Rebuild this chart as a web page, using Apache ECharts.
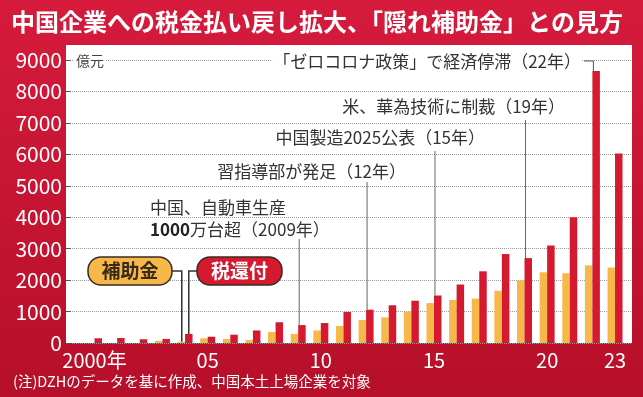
<!DOCTYPE html>
<html><head><meta charset="utf-8">
<script src="https://cdn.jsdelivr.net/npm/echarts@6/dist/echarts.min.js"></script>
<style>html,body{margin:0;padding:0;background:#c41230;}#c{width:643px;height:397px;}</style>
</head><body><div id="c"></div>
<script>
const years = [2000,2001,2002,2003,2004,2005,2006,2007,2008,2009,2010,2011,2012,2013,2014,2015,2016,2017,2018,2019,2020,2021,2022,2023];
// 補助金 (subsidies), 億元
const subsidy = [0,0,0,70,40,150,130,100,350,290,400,540,730,815,1000,1270,1370,1410,1660,1990,2250,2220,2470,2400];
// 税還付 (tax refunds), 億元
const taxRefund = [150,160,120,130,290,200,265,400,660,570,635,985,1060,1200,1345,1510,1860,2280,2830,2700,3100,4000,8650,6030];
const xTickValues = [2000,2005,2010,2015,2020,2023];
const xTickLabels = ['2000年','05','10','15','20','23'];
const titleText = '中国企業への税金払い戻し拡大、「隠れ補助金」との見方';
const noteText = '(注)DZHのデータを基に作成、中国本土上場企業を対象';
const unitText = '億元';
const events = [
  {year:2022, text:'「ゼロコロナ政策」で経済停滞（22年）'},
  {year:2019, text:'米、華為技術に制裁（19年）'},
  {year:2015, text:'中国製造2025公表（15年）'},
  {year:2012, text:'習指導部が発足（12年）'},
  {year:2009, text:'中国、自動車生産\n{b|1000}万台超（2009年）'}
];

const F = '"Noto Sans CJK JP", "Noto Sans", sans-serif';
const BW = 7.5;
const YELLOW = '#f7b84a', RED = '#d51a30';
const chart = echarts.init(document.getElementById('c'), null, {renderer:'canvas'});
chart.setOption({
  animation:false,
  backgroundColor:{type:'linear',x:0,y:0,x2:0,y2:1,colorStops:[{offset:0,color:'#d61b3d'},{offset:1,color:'#b60f29'}]},
  grid:{left:66,right:11,top:60,bottom:54},
  xAxis:{type:'value',min:1998.74,max:2023.75,
    axisLine:{show:false},axisTick:{show:false},splitLine:{show:false},
    axisLabel:{customValues:xTickValues,formatter:v=>xTickLabels[xTickValues.indexOf(v)],color:'#fff',fontSize:20,fontFamily:F,margin:7}},
  yAxis:{type:'value',min:0,max:9000,interval:1000,
    axisLine:{show:false},
    axisTick:{show:true,inside:true,length:5,lineStyle:{color:'#555'}},
    splitLine:{lineStyle:{type:'dotted',color:'#9a9a9a'}},
    axisLabel:{color:'#fff',fontSize:21,fontFamily:F,margin:4,formatter:v=>String(v)}},
  series:[
    {type:'bar',name:'補助金',data:years.map((y,i)=>[y,subsidy[i]]),barWidth:BW,barGap:'0%',itemStyle:{color:YELLOW}},
    {type:'bar',name:'税還付',data:years.map((y,i)=>[y,taxRefund[i]]),barWidth:BW,barGap:'0%',itemStyle:{color:RED}}
  ]
});

const P = (x,y)=>chart.convertToPixel({gridIndex:0},[x,y]);
const redTop = yr => { const i = years.indexOf(yr); const p = P(yr, taxRefund[i]); return [p[0]+1, p[1]]; };
const g = [];
g.push({type:'rect',z:-10,shape:{x:66,y:45,width:566,height:298},style:{fill:'#fff'}});
g.push({type:'text',z:100,x:11,y:22,style:{text:titleText,fill:'#fff',font:'bold 24px '+F,verticalAlign:'middle',shadowColor:'rgba(60,0,10,0.85)',shadowBlur:3}});
g.push({type:'text',z:100,x:13,y:381,style:{text:noteText,fill:'#fff',font:'14.5px '+F,verticalAlign:'middle'}});
g.push({type:'text',z:100,x:74,y:61,style:{text:unitText,fill:'#444',font:'14px '+F,verticalAlign:'middle',backgroundColor:'#fff',padding:[0,2]}});

const ann = {
  2022:{x:582,y:62,align:'right',top:61},
  2019:{x:565,y:107,align:'right',top:120},
  2015:{x:485,y:138,align:'right',top:151},
  2012:{x:406,y:172,align:'right',top:182},
  2009:{x:150,y:219,align:'left',top:239}
};
events.forEach(e=>{
  const a = ann[e.year];
  g.push({type:'text',z:100,x:a.x,y:a.y,style:{text:e.text,fill:'#333',font:'17px '+F,align:a.align,verticalAlign:'middle',lineHeight:22,
    backgroundColor:e.year===2022?'#fff':null,padding:e.year===2022?[0,1]:0,
    rich:{b:{font:'bold 17px '+F,fill:'#222',lineHeight:22}}}});
  const t = redTop(e.year);
  if (e.year===2022) {
    g.push({type:'polyline',z:99,shape:{points:[[584,a.top],[t[0],a.top],[t[0],t[1]]]},style:{stroke:'#555',lineWidth:1,fill:null}});
  } else {
    g.push({type:'line',z:99,shape:{x1:t[0],y1:a.top,x2:t[0],y2:t[1]},style:{stroke:'#666',lineWidth:1}});
  }
});

// legend boxes with connectors to 2004 bars
const i04 = years.indexOf(2004);
const c04 = P(2004, subsidy[i04]);
const r04 = P(2004, taxRefund[i04]);
const xY = c04[0]-BW/2+0.5, xR = c04[0]+BW/2;
g.push({type:'polyline',z:99,shape:{points:[[172,271],[xY,271],[xY,c04[1]]]},style:{stroke:'#333',lineWidth:1.5,fill:null}});
g.push({type:'polyline',z:99,shape:{points:[[197,271],[xR,271],[xR,r04[1]]]},style:{stroke:'#333',lineWidth:1.5,fill:null}});
g.push({type:'rect',z:100,shape:{x:88,y:257,width:84,height:28,r:13},style:{fill:YELLOW,stroke:'#3a2a20',lineWidth:1.5}});
g.push({type:'text',z:101,x:130,y:271,style:{text:'補助金',fill:'#3a2a1a',font:'bold 19px '+F,align:'center',verticalAlign:'middle'}});
g.push({type:'rect',z:100,shape:{x:197,y:257,width:85,height:28,r:13},style:{fill:RED,stroke:'#3a2a20',lineWidth:1.5}});
g.push({type:'text',z:101,x:239.5,y:271,style:{text:'税還付',fill:'#fff',font:'bold 19px '+F,align:'center',verticalAlign:'middle'}});

chart.setOption({graphic:{elements:g}});
</script>
</body></html>
